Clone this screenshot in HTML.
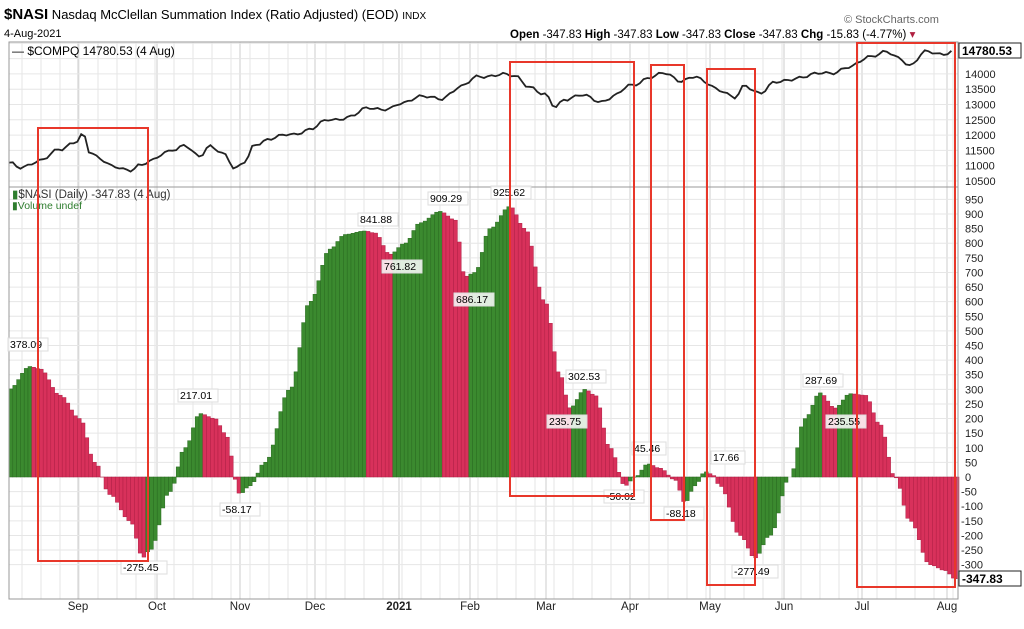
<!DOCTYPE html>
<html><head><meta charset="utf-8"><style>
body{margin:0;background:#fff;width:1024px;height:629px;overflow:hidden}
svg{display:block}
text{font-family:"Liberation Sans",sans-serif}
</style></head><body>
<svg id="s" width="1024" height="629" xmlns="http://www.w3.org/2000/svg">
<g id="grid"></g>
<g id="bars"></g>
<path id="line" fill="none" stroke="#222" stroke-width="1.8"/>
<rect x="9" y="42" width="949" height="557" fill="none" stroke="#999" stroke-width="1"/>
<line x1="9" y1="187" x2="958" y2="187" stroke="#999"/>
<text x="4" y="19" font-size="13"><tspan font-weight="bold" font-size="15">$NASI</tspan> Nasdaq McClellan Summation Index (Ratio Adjusted) (EOD) <tspan font-size="10">INDX</tspan></text>
<text x="4" y="37" font-size="11">4-Aug-2021</text>
<text x="844" y="23" font-size="11" fill="#666">© StockCharts.com</text>
<text x="510" y="38" font-size="11.5"><tspan font-weight="bold">Open</tspan> -347.83  <tspan font-weight="bold">High</tspan> -347.83  <tspan font-weight="bold">Low</tspan> -347.83  <tspan font-weight="bold">Close</tspan> -347.83  <tspan font-weight="bold">Chg</tspan> -15.83 (-4.77%) <tspan fill="#b02040">▾</tspan></text>
<text x="12" y="55" font-family="Liberation Mono" font-size="12">— $COMPQ 14780.53 (4 Aug)</text>
<text x="12" y="198" font-family="Liberation Mono" font-size="11.5" fill="#333"><tspan fill="#2e7d2e">▮</tspan>$NASI (Daily) -347.83 (4 Aug)</text>
<text x="12" y="209" font-family="Liberation Sans" font-size="10.5" fill="#2e7d2e">▮Volume undef</text>
<g id="ax" font-size="11" fill="#222"></g>
<g id="mon" font-size="11.5" fill="#222" font-family="Liberation Mono"></g>
<g id="lbl" font-size="10.5"></g>
<rect x="959" y="43" width="62" height="15" fill="#fff" stroke="#222"/>
<text x="962" y="55" font-size="12" font-weight="bold">14780.53</text>
<rect x="959" y="571" width="62" height="15" fill="#fff" stroke="#222"/>
<text x="962" y="583" font-size="12" font-weight="bold">-347.83</text>
<g fill="none" stroke="#e8372a" stroke-width="2">
<rect x="38" y="128" width="110" height="433"/>
<rect x="510" y="62" width="124" height="434"/>
<rect x="651" y="65" width="33" height="455"/>
<rect x="707" y="69" width="48" height="516"/>
<rect x="857" y="43" width="98" height="544"/>
</g>
</svg>
<script>
const NS="http://www.w3.org/2000/svg";
function el(p,t,a,txt){const e=document.createElementNS(NS,t);for(const k in a)e.setAttribute(k,a[k]);if(txt!=null)e.textContent=txt;document.getElementById(p).appendChild(e);return e;}
const yl=v=>477-v*0.2922, yu=v=>181-(v-10500)*0.0306;
for(let x=22;x<958;x+=19) el("grid","line",{x1:x,y1:42,x2:x,y2:599,stroke:"#e6e6e6"});
const months=[["Sep",78],["Oct",157],["Nov",240],["Dec",315],["2021",399],["Feb",470],["Mar",546],["Apr",630],["May",710],["Jun",784],["Jul",862],["Aug",947]];
months.forEach(([m,x])=>{el("grid","line",{x1:x,y1:42,x2:x,y2:599,stroke:"#ccc"});
 const t=el("mon","text",{x:x,y:610,"text-anchor":"middle"},m); if(m=="2021"){t.setAttribute("font-weight","bold");t.setAttribute("font-family","Liberation Sans");}});
for(let v=10500;v<=15000;v+=500){const y=yu(v);if(y>42)el("grid","line",{x1:9,y1:y,x2:958,y2:y,stroke:"#e6e6e6"});if(v<14500)el("ax","text",{x:965,y:y+4},v);}
for(let v=-300;v<=950;v+=50){const y=yl(v);el("grid","line",{x1:9,y1:y,x2:958,y2:y,stroke:"#e6e6e6"});el("ax","text",{x:v<0?961:965,y:y+4},v);}
function interp(pts,x){for(let i=1;i<pts.length;i++){if(x<=pts[i][0]){const[a,b]=pts[i-1],[c,d]=pts[i];const t=(x-a)/(c-a);const s=(1-Math.cos(Math.PI*t))/2;return b+(d-b)*s;}}return pts[pts.length-1][1];}
const N=[[9,300],[30,378],[40,370],[60,280],[80,200],[95,50],[110,-60],[130,-150],[143,-275],[150,-250],[170,-50],[185,100],[200,217],[215,200],[225,150],[240,-58],[250,-30],[265,50],[290,300],[310,600],[330,780],[345,830],[365,842],[375,835],[390,762],[405,800],[420,870],[440,909],[455,880],[465,686],[475,700],[490,850],[510,926],[525,850],[545,600],[560,350],[570,236],[585,300],[595,280],[610,100],[625,-30],[635,0],[648,45],[660,30],[675,-10],[685,-88],[695,-30],[705,18],[712,10],[720,-30],[740,-200],[755,-277],[770,-200],[790,0],[805,200],[820,288],[835,236],[850,285],[865,280],[880,180],[895,0],[910,-150],[930,-300],[945,-320],[955,-348]];
let prev=null;
for(let x=9;x<956;x+=3.8){const v=interp(N,x+1.9);const up=prev===null||v>=prev;prev=v;
 const y0=yl(0),y1=yl(v);el("bars","rect",{x:x.toFixed(1),y:Math.min(y0,y1).toFixed(1),width:3.8,height:Math.abs(y1-y0).toFixed(1),fill:up?"#3b8a2f":"#d8315b",stroke:up?"#2a6a20":"#b02045","stroke-width":0.5});}
const C=[[9,11100],[20,10900],[40,11200],[60,11500],[75,11800],[83,12050],[90,11400],[100,11200],[115,11000],[130,10800],[140,11000],[150,11200],[165,11400],[175,11500],[185,11700],[200,11300],[210,11600],[225,11400],[235,10900],[245,11100],[255,11700],[270,11900],[290,12000],[310,12200],[330,12500],[350,12600],[370,12900],[390,12850],[400,13000],[420,13300],[440,13150],[460,13600],[480,13900],[500,14000],[515,13900],[530,13600],[545,13300],[555,12900],[565,13200],[580,13300],[600,13100],[615,13300],[630,13600],[650,13900],[665,14000],[680,13800],[695,13900],[705,13700],[720,13500],[735,13200],[745,13600],[760,13400],[775,13700],[800,13900],[830,14050],[850,14200],[870,14600],[885,14700],[900,14500],[910,14300],[925,14700],[940,14650],[955,14780]];
let d="";let k=0;for(let x=9;x<=955;x+=3.8){let v=interp(C,x)+Math.sin(k*1.7)*40+Math.sin(k*0.63)*40;k++;d+=(d?"L":"M")+x.toFixed(1)+","+yu(v).toFixed(1);}
document.getElementById("line").setAttribute("d",d);
const L=[["378.09",10,346],["217.01",180,397],["-275.45",123,569],["-58.17",222,511],["841.88",360,221],["761.82",384,268],["909.29",430,200],["686.17",456,301],["925.62",493,194],["302.53",568,378],["235.75",549,423],["45.46",634,450],["-50.02",606,498],["17.66",713,459],["-88.18",666,515],["-277.49",734,573],["287.69",805,382],["235.55",828,423]];
L.forEach(([t,x,y])=>{const w=t.length*6+4;el("lbl","rect",{x:x-2,y:y-8,width:w,height:13,fill:"#fff","fill-opacity":0.85,stroke:"#ddd"});el("lbl","text",{x:x,y:y+2},t);});
</script>
</body></html>
